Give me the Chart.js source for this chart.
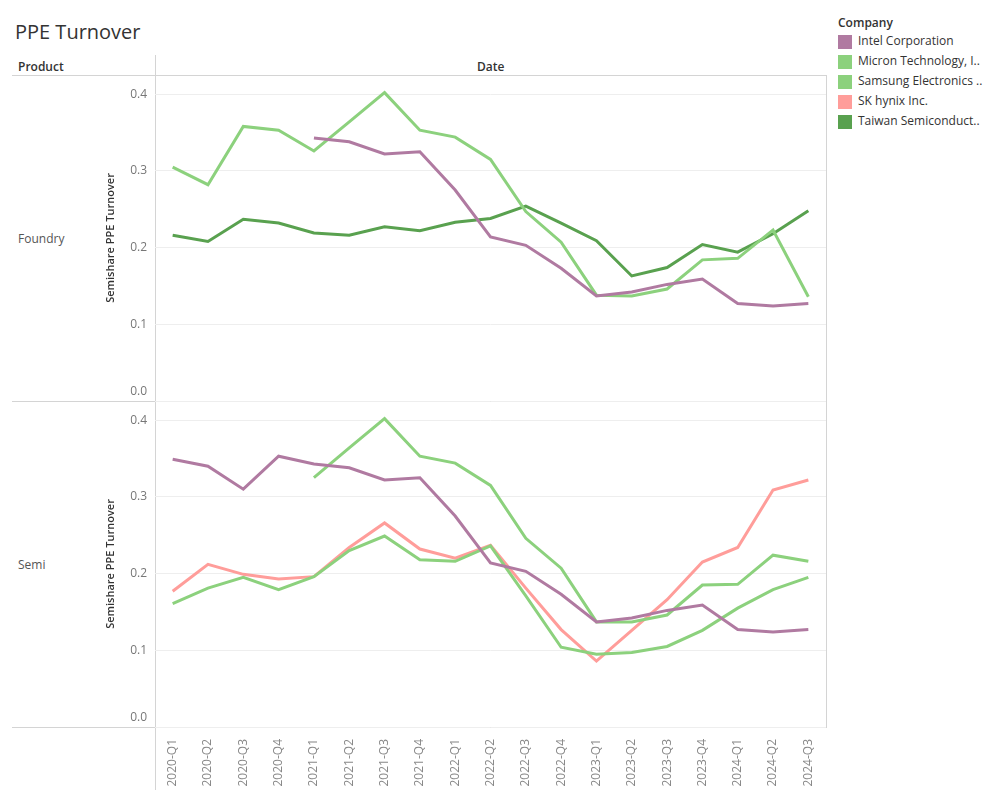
<!DOCTYPE html>
<html>
<head>
<meta charset="utf-8">
<script src="https://cdn.jsdelivr.net/npm/chart.js@4/dist/chart.umd.min.js"></script>
<style>
  body { margin: 0; width: 1000px; height: 800px; background: #fff; position: relative; overflow: hidden;
         font-family: "Open Sans", sans-serif; color: #333; }
  .t { position: absolute; white-space: nowrap; }
  .hl { position: absolute; height: 1px; background: #d4d4d4; }
  .vl { position: absolute; width: 1px; background: #d4d4d4; }
  canvas { position: absolute; }
  #legend .item { position: absolute; left: 838px; font-size: 12px; color: #333; }
  #legend .sw { display: inline-block; width: 14px; height: 14px; vertical-align: middle; margin-right: 6px; }
</style>
</head>
<body>
<div class="t" style="left:15px; top:19px; font-size:20px; line-height:26px; color:#333;">PPE Turnover</div>
<div class="t" style="left:18px; top:58px; font-size:12px; font-weight:600;">Product</div>
<div class="t" style="left:477px; top:58px; font-size:12px; font-weight:600;">Date</div>
<div class="t" style="left:18px; top:230px; font-size:12px; color:#555;">Foundry</div>
<div class="t" style="left:18px; top:556px; font-size:12px; color:#555;">Semi</div>

<div class="hl" style="left:12px; top:75px; width:815px;"></div>
<div class="hl" style="left:12px; top:401px; width:815px;"></div>
<div class="hl" style="left:12px; top:727px; width:815px;"></div>
<div class="vl" style="left:155px; top:55px; height:735px;"></div>
<div class="vl" style="left:826px; top:75px; height:652px;"></div>

<div id="legend">
  <div class="t" style="left:838px; top:14px; font-size:12px; font-weight:600;">Company</div>
</div>

<canvas id="foundry" width="730" height="346" style="left:100px; top:65px;"></canvas>
<canvas id="semi" width="730" height="409" style="left:100px; top:391px;"></canvas>

<script>
const quarters = ['2020-Q1', '2020-Q2', '2020-Q3', '2020-Q4', '2021-Q1', '2021-Q2', '2021-Q3', '2021-Q4',
  '2022-Q1', '2022-Q2', '2022-Q3', '2022-Q4', '2023-Q1', '2023-Q2', '2023-Q3', '2023-Q4',
  '2024-Q1', '2024-Q2', '2024-Q3'];

const companies = ['Intel Corporation', 'Micron Technology, I..', 'Samsung Electronics ..', 'SK hynix Inc.', 'Taiwan Semiconduct..'];
const companyColors = ['#B07AA1', '#8CD17D', '#8CD17D', '#FF9D9A', '#59A14F'];

// Foundry
const foundryIntel = [null, null, null, null, 0.343, 0.338, 0.322, 0.325, 0.275, 0.214, 0.203, 0.173, 0.137, 0.142, 0.152, 0.159, 0.127, 0.124, 0.127];
const foundrySamsung = [0.305, 0.282, 0.358, 0.353, 0.326, 0.364, 0.402, 0.353, 0.344, 0.315, 0.247, 0.207, 0.138, 0.137, 0.146, 0.184, 0.186, 0.223, 0.136];
const foundryTsmc = [0.216, 0.208, 0.237, 0.232, 0.219, 0.216, 0.227, 0.222, 0.233, 0.238, 0.254, 0.232, 0.209, 0.163, 0.174, 0.204, 0.194, 0.218, 0.248];

// Semi
const semiIntel = [0.349, 0.340, 0.310, 0.353, 0.343, 0.338, 0.322, 0.325, 0.275, 0.214, 0.203, 0.173, 0.137, 0.142, 0.152, 0.159, 0.127, 0.124, 0.127];
const semiMicron = [0.161, 0.181, 0.195, 0.179, 0.196, 0.230, 0.249, 0.218, 0.216, 0.236, 0.171, 0.104, 0.095, 0.097, 0.105, 0.126, 0.155, 0.179, 0.195];
const semiSamsung = [null, null, null, null, 0.325, 0.364, 0.402, 0.353, 0.344, 0.315, 0.246, 0.207, 0.137, 0.137, 0.146, 0.185, 0.186, 0.224, 0.216];
const semiHynix = [0.177, 0.212, 0.199, 0.193, 0.196, 0.234, 0.266, 0.232, 0.220, 0.237, 0.181, 0.127, 0.086, 0.126, 0.166, 0.215, 0.234, 0.309, 0.322];

const tickFont = { family: '"Open Sans", sans-serif', size: 12 };

// legend built from the company list
const legend = document.getElementById('legend');
companies.forEach((name, i) => {
  const d = document.createElement('div');
  d.className = 'item';
  d.style.top = (32 + i * 20) + 'px';
  d.innerHTML = '<span class="sw" style="background:' + companyColors[i] + '"></span>' + name;
  legend.appendChild(d);
});

// Tableau lifts the bottom "0.0" label so it sits inside the pane
const zeroLabel = {
  id: 'zeroLabel',
  afterDraw(chart) {
    const y = chart.scales.y;
    const ctx = chart.ctx;
    ctx.save();
    ctx.font = '12px "Open Sans", sans-serif';
    ctx.fillStyle = '#777';
    ctx.textAlign = 'right';
    ctx.textBaseline = 'middle';
    ctx.fillText((0).toFixed(1), y.right - 8, y.getPixelForValue(0) - 9);
    ctx.restore();
  }
};

function series(values, company)
{
  const i = companies.indexOf(company);
  return { label: company, data: values, borderColor: companyColors[i], backgroundColor: companyColors[i] };
}

function makeChart(id, datasets, showX)
{
  new Chart(document.getElementById(id), {
    type: 'line',
    data: { labels: quarters, datasets: datasets },
    plugins: [zeroLabel],
    options: {
      responsive: false,
      animation: false,
      layout: { padding: { top: 10, right: 4, bottom: showX ? 0 : 10, left: 0 } },
      plugins: { legend: { display: false }, tooltip: { enabled: false } },
      elements: { point: { radius: 0 }, line: { borderWidth: 3, tension: 0 } },
      scales: {
        x: {
          display: showX,
          offset: true,
          grid: { display: false },
          border: { display: false },
          ticks: { minRotation: 90, maxRotation: 90, padding: 4, color: '#888', font: tickFont, autoSkip: false },
          afterFit: s => { if (showX) s.height = 73; }
        },
        y: {
          min: 0,
          max: 0.425,
          border: { display: false },
          grid: { color: '#eeeeee', drawTicks: false },
          ticks: { stepSize: 0.1, includeBounds: false, padding: 8, color: '#777', font: tickFont,
                   callback: v => (v === 0 ? '' : v.toFixed(1)) },
          title: { display: true, text: 'Semishare PPE Turnover', color: '#333',
                   font: { family: '"Open Sans", sans-serif', size: 11, weight: '600' } },
          afterFit: s => { s.width = 55; s.paddingTop = 0; s.paddingBottom = 0; }
        }
      }
    }
  });
}

makeChart('foundry', [
  series(foundryIntel, 'Intel Corporation'),
  series(foundrySamsung, 'Samsung Electronics ..'),
  series(foundryTsmc, 'Taiwan Semiconduct..')
], false);

makeChart('semi', [
  series(semiIntel, 'Intel Corporation'),
  series(semiMicron, 'Micron Technology, I..'),
  series(semiSamsung, 'Samsung Electronics ..'),
  series(semiHynix, 'SK hynix Inc.')
], true);
</script>
</body>
</html>
